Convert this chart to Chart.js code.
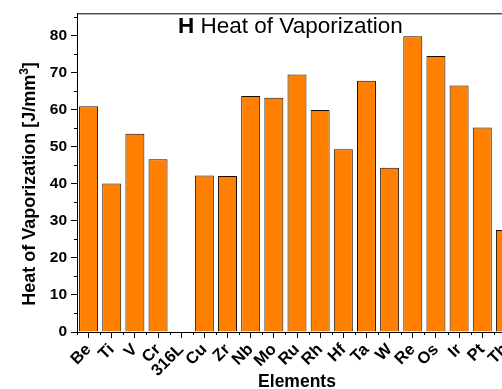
<!DOCTYPE html>
<html>
<head>
<meta charset="utf-8">
<script src="https://cdn.jsdelivr.net/npm/chart.js@4.4.0/dist/chart.umd.min.js"></script>
<style>
  html, body { margin: 0; padding: 0; background: #fff; overflow: hidden; }
  #wrap { width: 540px; height: 389px; }
</style>
</head>
<body>
<div id="wrap"><canvas id="chart" width="540" height="389"></canvas></div>
<script>
// data
const elements = ["Be", "Ti", "V", "Cr", "316L", "Cu", "Zr", "Nb", "Mo", "Ru", "Rh", "Hf", "Ta", "W", "Re", "Os", "Ir", "Pt", "Th"];
const heatValues = [60.9, 40.1, 53.5, 46.6, null, 42.2, 42.1, 63.7, 63.2, 69.5, 59.9, 49.3, 67.8, 44.3, 79.8, 74.5, 66.5, 55.2, 27.5];
const yTicks = [0, 10, 20, 30, 40, 50, 60, 70, 80];

const FONT = "Arial, 'Liberation Sans', sans-serif";

// frame line, minor ticks and text drawn on top
const decorations = {
  id: "decorations",
  afterDraw(chart) {
    const ctx = chart.ctx;
    const area = chart.chartArea;
    const x = chart.scales.x;
    const y = chart.scales.y;
    ctx.save();
    ctx.strokeStyle = "#000";
    ctx.lineWidth = 1;

    // top frame
    ctx.beginPath();
    ctx.moveTo(area.left, area.top + 0.5);
    ctx.lineTo(area.right, area.top + 0.5);
    ctx.stroke();

    // minor y ticks
    for (let v = 5; v <= 85; v += 10) {
      const py = Math.round(y.getPixelForValue(v)) + 0.5;
      ctx.beginPath();
      ctx.moveTo(area.left - 3, py);
      ctx.lineTo(area.left, py);
      ctx.stroke();
    }

    // minor x ticks on category edges
    const n = elements.length;
    for (let i = 0; i <= n; i++) {
      const px = Math.round(x.getPixelForValue(i - 0.5)) + 0.5;
      ctx.beginPath();
      ctx.moveTo(px, area.bottom);
      ctx.lineTo(px, area.bottom + 3);
      ctx.stroke();
    }

    ctx.fillStyle = "#000";

    // panel title
    ctx.textBaseline = "alphabetic";
    ctx.textAlign = "left";
    ctx.font = "bold 22.5px " + FONT;
    const tx = 178, ty = 33;
    ctx.fillText("H", tx, ty);
    const hw = ctx.measureText("H ").width;
    ctx.font = "22.5px " + FONT;
    ctx.fillText("Heat of Vaporization", tx + hw, ty);

    // y axis title with superscript
    ctx.save();
    ctx.translate(35, 184);
    ctx.rotate(-Math.PI / 2);
    ctx.font = "bold 18px " + FONT;
    const main = "Heat of Vaporization [J/mm";
    const mw = ctx.measureText(main).width;
    ctx.font = "bold 12px " + FONT;
    const sw = ctx.measureText("3").width;
    ctx.font = "bold 18px " + FONT;
    const cw = ctx.measureText("]").width;
    let sx = -(mw + sw + cw) / 2;
    ctx.fillText(main, sx, 0);
    ctx.font = "bold 12px " + FONT;
    ctx.fillText("3", sx + mw, -7);
    ctx.font = "bold 18px " + FONT;
    ctx.fillText("]", sx + mw + sw, 0);
    ctx.restore();

    // x axis title
    ctx.textAlign = "center";
    ctx.font = "bold 17.5px " + FONT;
    ctx.fillText("Elements", (area.left + area.right) / 2, 387);

    ctx.restore();
  }
};

new Chart(document.getElementById("chart"), {
  type: "bar",
  data: {
    labels: elements,
    datasets: [{
      data: heatValues,
      backgroundColor: "#ff8000",
      borderColor: "#1a0d00",
      borderWidth: 1,
      borderSkipped: "bottom",
      barPercentage: 0.82,
      categoryPercentage: 1
    }]
  },
  options: {
    responsive: false,
    animation: false,
    layout: { padding: { left: 0, top: 8, right: 23, bottom: 0 } },
    plugins: {
      legend: { display: false },
      title: { display: false },
      tooltip: { enabled: false }
    },
    scales: {
      x: {
        offset: true,
        afterFit(scale) { scale.height = 57; },
        grid: {
          offset: false,
          drawOnChartArea: false,
          drawTicks: true,
          tickLength: 6,
          color: "#000"
        },
        border: { display: true, color: "#000", width: 1 },
        ticks: {
          minRotation: 45,
          maxRotation: 45,
          autoSkip: false,
          padding: 2,
          color: "#000",
          font: { family: FONT, size: 16.5, weight: "bold" }
        }
      },
      y: {
        min: 0,
        max: 86,
        afterFit(scale) { scale.width = 77; },
        afterBuildTicks(scale) {
          scale.ticks = yTicks.map(v => ({ value: v }));
        },
        grid: {
          drawOnChartArea: false,
          drawTicks: true,
          tickLength: 6,
          color: "#000"
        },
        border: { display: true, color: "#000", width: 1 },
        ticks: {
          padding: 4,
          color: "#000",
          font: { family: FONT, size: 15.5, weight: "bold" }
        }
      }
    }
  },
  plugins: [decorations]
});
</script>
</body>
</html>
